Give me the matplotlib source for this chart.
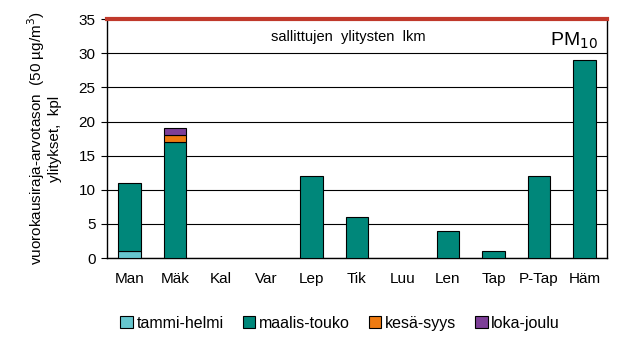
import numpy as np
import matplotlib.pyplot as plt

plt.rcParams['font.family'] = ['Liberation Sans', 'DejaVu Sans']

asemat = ['Man', 'Mäk', 'Kal', 'Var', 'Lep', 'Tik', 'Luu', 'Len', 'Tap', 'P-Tap', 'Häm']
tammi_helmi = [1, 0, 0, 0, 0, 0, 0, 0, 0, 0, 0]
maalis_touko = [10, 17, 0, 0, 12, 6, 0, 4, 1, 12, 29]
kesa_syys = [0, 1, 0, 0, 0, 0, 0, 0, 0, 0, 0]
loka_joulu = [0, 1, 0, 0, 0, 0, 0, 0, 0, 0, 0]
sallitut = 35

sarjat = [('tammi-helmi', tammi_helmi, '#66C6CE'),
          ('maalis-touko', maalis_touko, '#00877A'),
          ('kesä-syys', kesa_syys, '#EE7A10'),
          ('loka-joulu', loka_joulu, '#7D3F98')]

fig = plt.figure(figsize=(6.24, 3.55), dpi=100)
ax = fig.add_axes([0.171, 0.273, 0.802, 0.673])

x = np.arange(len(asemat))
pohja = np.zeros(len(asemat))
for nimi, arvot, vari in sarjat:
    arvot = np.array(arvot, dtype=float)
    nz = arvot > 0  # ei piirretä nollapylväitä
    ax.bar(x[nz], arvot[nz], 0.5, bottom=pohja[nz], color=vari, edgecolor='black',
           linewidth=0.8, label=nimi, zorder=3)
    pohja += arvot

ax.set_ylim(0, 35)
ax.set_xlim(-0.5, len(asemat) - 0.5)
ax.set_yticks(range(0, 36, 5))
ax.set_xticks(x)
ax.set_xticklabels(asemat)
ax.tick_params(axis='x', labelsize=11, length=0, pad=10)
ax.tick_params(axis='y', labelsize=11, length=4, direction='out', pad=4)
ax.grid(axis='y', color='black', linewidth=0.8, zorder=0)
ax.axhline(sallitut, color='#C0392B', linewidth=3, zorder=4, clip_on=False)
ax.spines['top'].set_visible(False)
for s in ['left', 'right', 'bottom']:
    ax.spines[s].set_linewidth(1.0)

ax.text(4.8, 32.4, 'sallittujen  ylitysten  lkm', ha='center', va='center', fontsize=10.5)
ax.text(10.3, 31.8, 'PM$_{10}$', ha='right', va='center', fontsize=14)

ax.set_ylabel('vuorokausiraja-arvotason  (50 µg/m$^3$)\nylitykset,  kpl', fontsize=11,
              linespacing=1.05, labelpad=12)

fig.legend(loc='center', bbox_to_anchor=(0.545, 0.09), ncol=4, frameon=False, fontsize=11.5,
           handlelength=0.8, handleheight=0.8, handletextpad=0.2, columnspacing=1.2)

fig.savefig('out.png', dpi=100)
